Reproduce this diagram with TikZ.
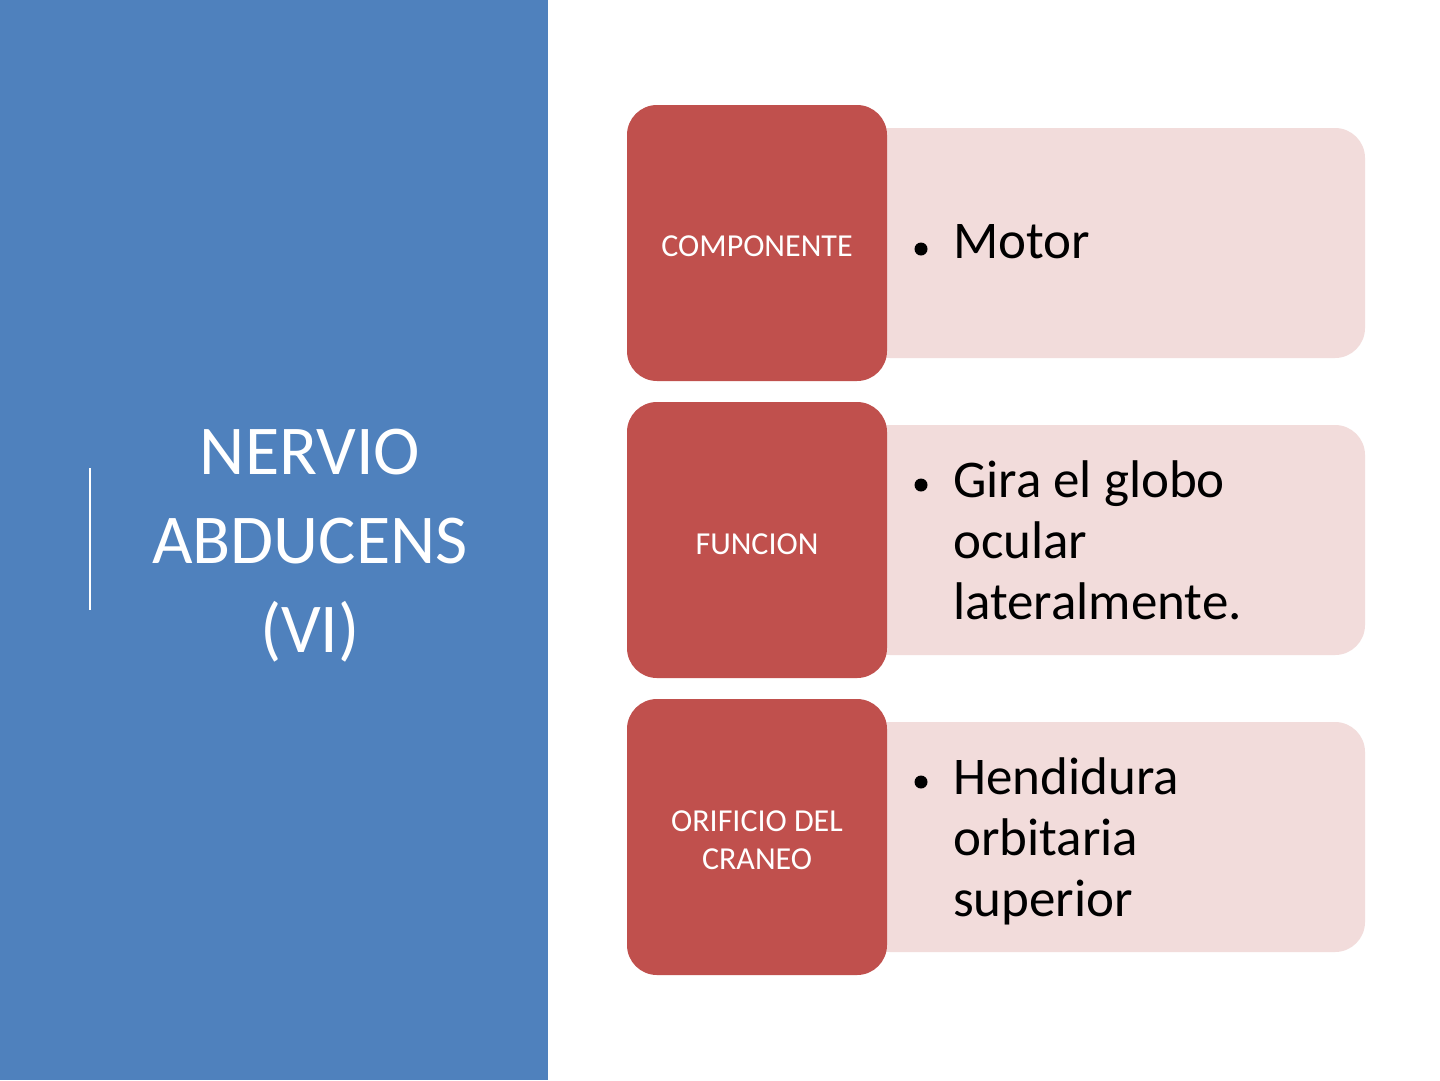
\documentclass[tikz,border=0pt]{standalone}
\usepackage{fontspec}
\setmainfont{Carlito}
\definecolor{blu}{HTML}{4F81BD}
\definecolor{redb}{HTML}{C0504D}
\definecolor{pink}{HTML}{F2DCDB}
\begin{document}
\begin{tikzpicture}[x=1pt,y=-1pt,
  redbox/.style={fill=redb,draw=none,rounded corners=30pt},
  pinkbox/.style={fill=pink,draw=none,rounded corners=30pt},
  lab/.style={text=white,font=\fontsize{32}{38}\selectfont,align=center},
  item/.style={anchor=north west,align=left,font=\fontsize{53}{61}\selectfont,inner sep=0pt}]
\useasboundingbox (0,0) rectangle (1440,1080);
\fill[white] (0,0) rectangle (1440,1080);
\fill[blu] (0,0) rectangle (548,1080);
\draw[white,line width=2.5pt] (90,468) -- (90,610);
\node[text=white,font=\fontsize{70}{89}\selectfont,align=center] (title) at (310,546) {NERVIO\\ABDUCENS\\(VI)};
\foreach \i/\t in {0/a,297/b,594/c}{
  \fill[pinkbox] (860,128+\i) rectangle (1365,358+\i);
  \fill[redbox] (627,105+\i) rectangle (887,381+\i);
}
\node[lab] (r1) at (757,246) {COMPONENTE};
\node[lab] (r2) at (757,544) {FUNCION};
\node[lab] (r3) at (757,840) {ORIFICIO DEL\\CRANEO};
\foreach \y/\n in {249/b1,485/b2,782/b3}{\fill (921,\y) circle (6.5pt);}
\node[item] (t1) at (953,224) {Motor};
\node[item] (t2) at (953,460) {Gira el globo\\ocular\\lateralmente.};
\node[item] (t3) at (953,757) {Hendidura\\orbitaria\\superior};
\end{tikzpicture}
\end{document}
